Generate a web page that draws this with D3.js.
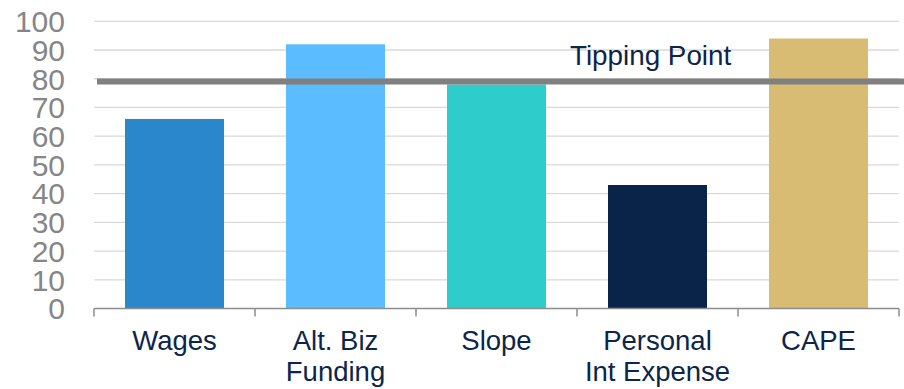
<!DOCTYPE html>
<html>
<head>
<meta charset="utf-8">
<script src="https://cdn.jsdelivr.net/npm/d3@7"></script>
<style>
  html, body { margin: 0; padding: 0; background: #fff; }
  svg { display: block; font-family: "Liberation Sans", Arial, sans-serif; }
</style>
</head>
<body>
<svg id="chart" width="904" height="389"></svg>
<script>
// Indicator readings against the tipping-point threshold
const categories = [["Wages"], ["Alt. Biz", "Funding"], ["Slope"], ["Personal", "Int Expense"], ["CAPE"]];
const values = [66, 92, 78, 43, 94];
const barColors = ["#2a87cb", "#5bbdff", "#2ecdcc", "#0a2348", "#d8bc74"];
const yTicks = [0, 10, 20, 30, 40, 50, 60, 70, 80, 90, 100];
const tippingPoint = 79;
const tippingLabel = "Tipping Point";

const W = 904, H = 389;
const plot = { left: 94, right: 899, top: 21.3, bottom: 308.5 };

const svg = d3.select("#chart");
const keys = categories.map(c => c.join(" "));

const x = d3.scaleBand()
  .domain(keys)
  .range([plot.left, plot.right])
  .paddingInner(0.385)
  .paddingOuter(0.1925);

const xOuter = d3.scaleBand().domain(keys).range([plot.left, plot.right]).padding(0);

const y = d3.scaleLinear().domain([0, 100]).range([plot.bottom, plot.top]);

// horizontal gridlines
svg.append("g")
  .selectAll("line")
  .data(yTicks.filter(t => t > 0))
  .join("line")
  .attr("x1", plot.left).attr("x2", plot.right)
  .attr("y1", d => y(d)).attr("y2", d => y(d))
  .attr("stroke", "#d9d9d9").attr("stroke-width", 1.3);

// y tick labels
svg.append("g")
  .selectAll("text")
  .data(yTicks)
  .join("text")
  .attr("x", 65)
  .attr("y", d => y(d))
  .attr("dy", "0.36em")
  .attr("text-anchor", "end")
  .attr("font-size", 30)
  .attr("fill", "#868686")
  .text(d => d);

// bars
svg.append("g")
  .selectAll("rect")
  .data(values)
  .join("rect")
  .attr("x", (d, i) => x(keys[i]))
  .attr("width", x.bandwidth())
  .attr("y", d => y(d))
  .attr("height", d => y(0) - y(d))
  .attr("fill", (d, i) => barColors[i]);

// category axis with boundary ticks
const axisG = svg.append("g");
axisG.append("line")
  .attr("x1", plot.left).attr("x2", plot.right)
  .attr("y1", plot.bottom).attr("y2", plot.bottom)
  .attr("stroke", "#8c8c8c").attr("stroke-width", 1.5);
const bounds = keys.map(k => xOuter(k)).concat([plot.right]);
axisG.selectAll("line.tick")
  .data(bounds)
  .join("line")
  .attr("class", "tick")
  .attr("x1", d => d).attr("x2", d => d)
  .attr("y1", plot.bottom).attr("y2", plot.bottom + 8)
  .attr("stroke", "#8c8c8c").attr("stroke-width", 1.5);

// category labels
const labelG = svg.append("g");
categories.forEach((lines, i) => {
  const t = labelG.append("text")
    .attr("x", x(keys[i]) + x.bandwidth() / 2)
    .attr("y", 350)
    .attr("text-anchor", "middle")
    .attr("font-size", 27.5)
    .attr("fill", "#0c2549");
  lines.forEach((ln, j) => {
    t.append("tspan")
      .attr("x", x(keys[i]) + x.bandwidth() / 2)
      .attr("dy", j === 0 ? 0 : 31)
      .text(ln);
  });
});

// tipping point threshold line
svg.append("line")
  .attr("x1", plot.left + 3).attr("x2", W)
  .attr("y1", y(tippingPoint)).attr("y2", y(tippingPoint))
  .attr("stroke", "#808080").attr("stroke-width", 6);

svg.append("text")
  .attr("x", 570).attr("y", 65)
  .attr("font-size", 27.8)
  .attr("fill", "#0c2549")
  .text(tippingLabel);
</script>
</body>
</html>
